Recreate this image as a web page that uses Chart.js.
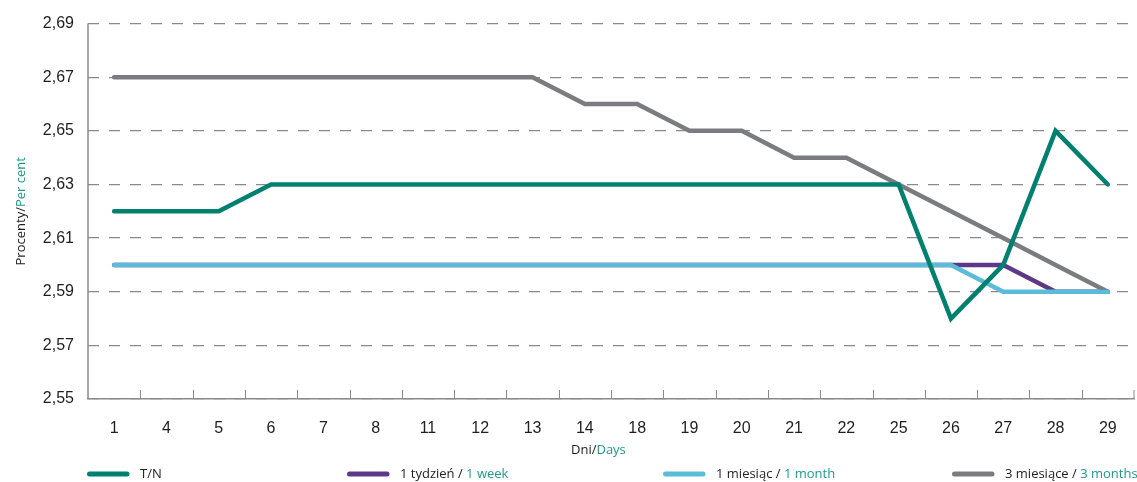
<!DOCTYPE html>
<html>
<head>
<meta charset="utf-8">
<script src="https://cdn.jsdelivr.net/npm/chart.js@4/dist/chart.umd.min.js"></script>
<style>
  body { margin: 0; background: #fff; }
  #wrap { width: 1137px; height: 482px; }
</style>
</head>
<body>
<div id="wrap"><canvas id="chart" width="1137" height="482"></canvas></div>
<script>
// days on the x axis
const days = ["1", "4", "5", "6", "7", "8", "11", "12", "13", "14", "18", "19", "20", "21", "22", "25", "26", "27", "28", "29"];

// rates, per cent
const tn       = [2.62, 2.62, 2.62, 2.63, 2.63, 2.63, 2.63, 2.63, 2.63, 2.63, 2.63, 2.63, 2.63, 2.63, 2.63, 2.63, 2.58, 2.60, 2.65, 2.63];
const week1    = [2.60, 2.60, 2.60, 2.60, 2.60, 2.60, 2.60, 2.60, 2.60, 2.60, 2.60, 2.60, 2.60, 2.60, 2.60, 2.60, 2.60, 2.60, 2.59, 2.59];
const month1   = [2.60, 2.60, 2.60, 2.60, 2.60, 2.60, 2.60, 2.60, 2.60, 2.60, 2.60, 2.60, 2.60, 2.60, 2.60, 2.60, 2.60, 2.59, 2.59, 2.59];
const months3  = [2.67, 2.67, 2.67, 2.67, 2.67, 2.67, 2.67, 2.67, 2.67, 2.66, 2.66, 2.65, 2.65, 2.64, 2.64, 2.63, 2.62, 2.61, 2.60, 2.59];

const yMin = 2.55, yMax = 2.69, yStep = 0.02;

// legend labels: [plain part, teal part]
const seriesNames = [["T/N", ""], ["1 tydzień / ", "1 week"], ["1 miesiąc / ", "1 month"], ["3 miesiące / ", "3 months"]];
const yTitle = ["Procenty/", "Per cent"];
const xTitle = ["Dni/", "Days"];

const TEAL = '#00806f', PURPLE = '#5c3987', BLUE = '#5bbcd9', GREY = '#7b7c80';
const TEXT = '#1e1e1e', TEXT_TEAL = '#1f9a89', AXIS = '#8a8a8a';
const colors = [TEAL, PURPLE, BLUE, GREY];
const legendX = [87, 347, 663, 952];

const TEXT_FONT = '13px "Open Sans", sans-serif';

function twoTone(ctx, parts, x, y) {
    ctx.fillStyle = TEXT;
    ctx.fillText(parts[0], x, y);
    const w = ctx.measureText(parts[0]).width;
    ctx.fillStyle = TEXT_TEAL;
    ctx.fillText(parts[1], x + w, y);
    return w + ctx.measureText(parts[1]).width;
}

const decor = {
    id: 'decor',
    afterDraw(chart) {
        const ctx = chart.ctx;
        const area = chart.chartArea;
        const xs = chart.scales.x;
        ctx.save();

        // y axis line
        ctx.strokeStyle = AXIS;
        ctx.lineWidth = 1.5;
        ctx.beginPath();
        ctx.moveTo(area.left, area.top);
        ctx.lineTo(area.left, area.bottom);
        ctx.stroke();

        // inward tick marks between categories
        ctx.lineWidth = 1;
        const n = days.length;
        for (let i = 1; i < n; i++) {
            const px = Math.round((xs.getPixelForTick(i - 1) + xs.getPixelForTick(i)) / 2) + 0.5;
            ctx.beginPath();
            ctx.moveTo(px, area.bottom);
            ctx.lineTo(px, area.bottom - 9);
            ctx.stroke();
        }
        const last = xs.getPixelForTick(n - 1) + (xs.getPixelForTick(n - 1) - xs.getPixelForTick(n - 2)) / 2;
        ctx.beginPath();
        ctx.moveTo(last, area.bottom);
        ctx.lineTo(last, area.bottom - 9);
        ctx.stroke();

        ctx.font = TEXT_FONT;
        ctx.textBaseline = 'middle';
        ctx.textAlign = 'left';

        // x title
        twoTone(ctx, xTitle, 571, 450);

        // y title, rotated
        ctx.save();
        ctx.translate(21, (area.top + area.bottom) / 2);
        ctx.rotate(-Math.PI / 2);
        const tw = ctx.measureText(yTitle[0] + yTitle[1]).width;
        twoTone(ctx, yTitle, -tw / 2, 0);
        ctx.restore();

        // legend
        seriesNames.forEach((nm, i) => {
            const x = legendX[i], y = 474;
            ctx.strokeStyle = colors[i];
            ctx.lineWidth = 5;
            ctx.lineCap = 'round';
            ctx.beginPath();
            ctx.moveTo(x + 2.5, y);
            ctx.lineTo(x + 40, y);
            ctx.stroke();
            twoTone(ctx, nm, x + 53, y);
        });
        ctx.restore();
    }
};

const lineDs = (data, color, order) => ({
    data: data,
    borderColor: color,
    backgroundColor: color,
    borderWidth: 4.5,
    pointRadius: 0,
    tension: 0,
    borderCapStyle: 'round',
    order: order
});

new Chart(document.getElementById('chart'), {
    type: 'line',
    data: {
        labels: days,
        datasets: [
            lineDs(tn, TEAL, 0),
            lineDs(week1, PURPLE, 2),
            lineDs(month1, BLUE, 1),
            lineDs(months3, GREY, 3)
        ]
    },
    options: {
        responsive: false,
        animation: false,
        layout: { padding: { top: 22, right: 3, left: 0, bottom: 0 } },
        plugins: { legend: { display: false }, tooltip: { enabled: false } },
        scales: {
            x: {
                offset: true,
                grid: { display: false },
                border: { display: true, color: AXIS, width: 1.5 },
                ticks: { color: TEXT, font: { family: '"Liberation Sans", Arial, sans-serif', size: 16 }, padding: 12, maxRotation: 0, autoSkip: false },
                afterFit(s) { s.height = 83; }
            },
            y: {
                min: yMin,
                max: yMax,
                grid: { color: AXIS, lineWidth: 1.3, drawTicks: false },
                border: { display: false, dash: [11, 10] },
                ticks: {
                    stepSize: yStep,
                    color: TEXT,
                    padding: 14,
                    font: { family: '"Liberation Sans", Arial, sans-serif', size: 16 },
                    callback: v => v.toFixed(2).replace('.', ',')
                },
                afterFit(s) { s.width = 88; }
            }
        }
    },
    plugins: [decor]
});
</script>
</body>
</html>
